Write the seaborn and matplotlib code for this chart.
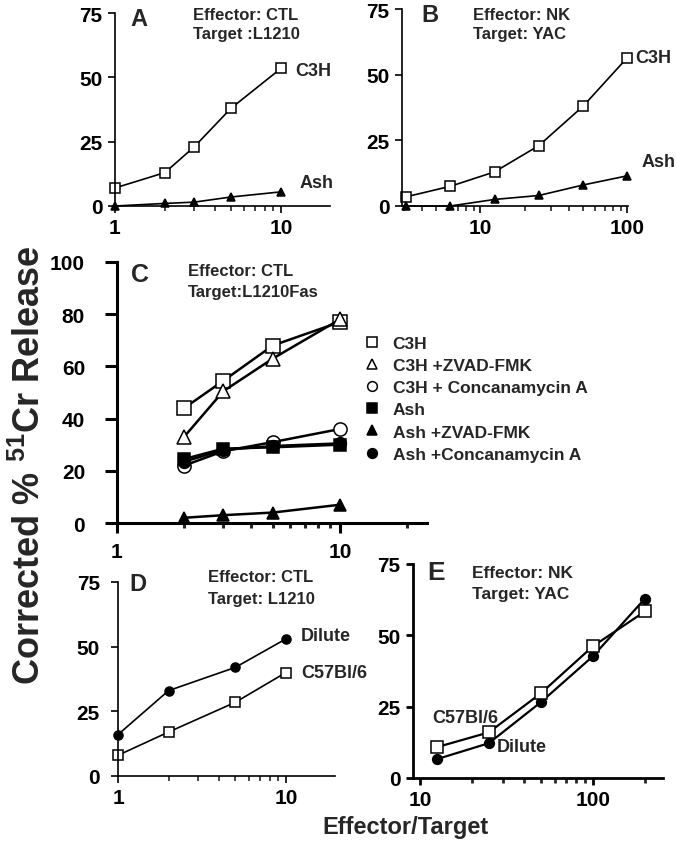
import numpy as np
import pandas as pd
import matplotlib
matplotlib.use('Agg')
import matplotlib.pyplot as plt
from matplotlib.lines import Line2D
from matplotlib.ticker import FuncFormatter, NullFormatter, LogLocator
import seaborn as sns

# ---- data ----
# Panel A: CTL vs L1210
a_et = [1, 2, 3, 5, 10]
a_c3h = [7, 13, 23, 38, 53.5]
a_ash = [0, 1, 1.5, 3.5, 5.5]

# Panel B: NK vs YAC
b_et = [3.125, 6.25, 12.5, 25, 50, 100]
b_c3h = [3.5, 7.5, 13, 23, 38, 56.5]
b_ash = [0, 0, 2.5, 4, 8, 11.5]

# Panel C: CTL vs L1210Fas
c_et = [2, 3, 5, 10]
c_c3h = [44, 54.5, 68, 77]
c_c3h_zvad = [33, 50.5, 63, 78]
c_c3h_conc = [22, 27.5, 31, 36]
c_ash = [24.5, 28.5, 29, 30]
c_ash_zvad = [2, 3, 4, 7]
c_ash_conc = [23.5, 28, 29.5, 30.5]

# Panel D: CTL vs L1210
d_et = [1, 2, 5, 10]
d_dilute = [16, 33, 42, 53]
d_c57 = [8, 17, 28.5, 40]

# Panel E: NK vs YAC
e_et = [12.5, 25, 50, 100, 200]
e_c57 = [10.8, 16, 29.7, 46.2, 58.4]
e_dilute = [6.6, 12.2, 26.6, 42.7, 62.9]

c_labels = ['C3H', 'C3H +ZVAD-FMK', 'C3H + Concanamycin A',
            'Ash', 'Ash +ZVAD-FMK', 'Ash +Concanamycin A']

sns.set_style('ticks')
plt.rcParams['font.family'] = ['Liberation Sans', 'DejaVu Sans']
plt.rcParams['font.weight'] = 'bold'
plt.rcParams['mathtext.fontset'] = 'custom'
plt.rcParams['mathtext.rm'] = 'Liberation Sans:bold'
plt.rcParams['mathtext.default'] = 'rm'

W, H = 677, 853
fig = plt.figure(figsize=(W / 100, H / 100), dpi=100)


def px(x, y):
    return x / W, 1 - y / H


def make_ax(left, right, top, bottom, lw, ylen=5, ypad=4, xlen=5, xpad=4):
    x0, y1 = px(left, top)
    x1, y0 = px(right, bottom)
    ax = fig.add_axes([x0, y0, x1 - x0, y1 - y0])
    ax.set_facecolor('none')
    sns.despine(ax=ax)
    for s in ['left', 'bottom']:
        ax.spines[s].set_linewidth(lw)
        ax.spines[s].set_color('black')
    ax.tick_params(axis='both', which='major', direction='out',
                   width=lw, labelsize=15, colors='black')
    ax.tick_params(axis='y', which='major', length=ylen, pad=ypad)
    ax.tick_params(axis='x', which='major', length=xlen, pad=xpad)
    ax.tick_params(axis='x', which='minor', direction='out', length=3.5, width=lw)
    return ax


def series(ax, x, y, marker, filled, ms, lw=1.2):
    df = pd.DataFrame({'et': x, 'val': y})
    sns.lineplot(data=df, x='et', y='val', ax=ax, color='black', linewidth=lw,
                 marker=marker, markersize=ms, clip_on=False,
                 markerfacecolor='black' if filled else 'white',
                 markeredgecolor='black', markeredgewidth=1.1)


def finish(ax, xlim, ylim, yticks):
    ax.set_xscale('log')
    ax.set_xlim(*xlim)
    ax.set_ylim(*ylim)
    ax.set_yticks(yticks)
    ax.xaxis.set_major_locator(LogLocator(base=10))
    ax.xaxis.set_minor_locator(LogLocator(base=10, subs=np.arange(2, 10)))
    ax.xaxis.set_major_formatter(FuncFormatter(lambda v, p: '%g' % v))
    ax.xaxis.set_minor_formatter(NullFormatter())
    ax.set_xlabel('')
    ax.set_ylabel('')
    for t in ax.get_xticklabels() + ax.get_yticklabels():
        t.set_fontweight('bold')


def label(ax, text, xy, off, size=13):
    ax.annotate(text, xy=xy, xytext=off, textcoords='offset pixels',
                ha='left', va='center', fontsize=size, fontweight='bold')


def ftext(x, y, s, size=12):
    fig.text(*px(x, y), s, ha='left', va='center', fontsize=size, fontweight='bold')


# Panel A
axA = make_ax(115, 330, 14, 207, 1.2)
series(axA, a_et, a_c3h, 's', False, 7)
series(axA, a_et, a_ash, '^', True, 5.5)
finish(axA, (1, 19.7), (0, 75), [0, 25, 50, 75])
label(axA, 'C3H', (a_et[-1], a_c3h[-1]), (14, -2))
label(axA, 'Ash', (a_et[-1], a_ash[-1]), (18, 9))
ftext(130, 20, 'A', 17)
ftext(193, 15, 'Effector: CTL')
ftext(193, 35, 'Target :L1210')

# Panel B
axB = make_ax(402, 628, 10, 207, 1.2)
series(axB, b_et, b_c3h, 's', False, 7)
series(axB, b_et, b_ash, '^', True, 5.5)
finish(axB, (2.93, 101), (0, 75), [0, 25, 50, 75])
label(axB, 'C3H', (b_et[-1], b_c3h[-1]), (8, 0))
label(axB, 'Ash', (b_et[-1], b_ash[-1]), (14, 14))
ftext(421, 15, 'B', 17)
ftext(473, 15, 'Effector: NK')
ftext(473, 35, 'Target: YAC')

# Panel C
axC = make_ax(117, 427, 263, 524, 2.2, ylen=9, ypad=14, xlen=7, xpad=7)
c_series = [(c_c3h, 's', False), (c_c3h_zvad, '^', False), (c_c3h_conc, 'o', False),
            (c_ash, 's', True), (c_ash_zvad, '^', True), (c_ash_conc, 'o', True)]
for vals, m, f in c_series:
    series(axC, c_et, vals, m, f, 9.5 if not f else 8.5, lw=1.8)
finish(axC, (1, 24.6), (0, 100), [0, 20, 40, 60, 80, 100])
ftext(131, 275, 'C', 18)
ftext(188, 272, 'Effector: CTL')
ftext(188, 292, 'Target:L1210Fas')
handles = [Line2D([], [], linestyle='none', marker=m, markersize=7,
                  markerfacecolor='black' if f else 'white', markeredgecolor='black',
                  markeredgewidth=1.1)
           for _, m, f in c_series]
fig.legend(handles, c_labels, loc='upper left', bbox_to_anchor=px(364, 337),
           frameon=False, handlelength=0.9, handletextpad=0.75,
           labelspacing=0.4, borderpad=0, borderaxespad=0,
           prop={'weight': 'bold', 'size': 12.5})

# Panel D
axD = make_ax(118, 335, 583, 777, 1.2, ypad=8)
series(axD, d_et, d_dilute, 'o', True, 6.5)
series(axD, d_et, d_c57, 's', False, 7)
finish(axD, (1, 19.6), (0, 75), [0, 25, 50, 75])
label(axD, 'Dilute', (d_et[-1], d_dilute[-1]), (15, 3))
label(axD, 'C57Bl/6', (d_et[-1], d_c57[-1]), (15, 0))
ftext(129, 585, 'D', 17)
ftext(208, 578, 'Effector: CTL')
ftext(208, 600, 'Target: L1210')

# Panel E
axE = make_ax(413, 663, 565, 779, 2.0)
series(axE, e_et, e_dilute, 'o', True, 7, lw=1.6)
series(axE, e_et, e_c57, 's', False, 9, lw=1.6)
finish(axE, (9.1, 254), (0, 75), [0, 25, 50, 75])
label(axE, 'C57Bl/6', (e_et[0], e_c57[0]), (-5, 30))
label(axE, 'Dilute', (e_et[1], e_dilute[1]), (8, -3))
ftext(427, 573, 'E', 19)
ftext(472, 573, 'Effector: NK', 12.5)
ftext(472, 595, 'Target: YAC', 12.5)

# shared axis titles
fig.text(*px(30, 465), 'Corrected % $^{51}$Cr Release', rotation=90,
         ha='center', va='center', fontsize=26, fontweight='bold')
fig.text(*px(405, 828), 'Effector/Target', ha='center', va='center',
         fontsize=17, fontweight='bold')

fig.savefig('out.png', dpi=100)
